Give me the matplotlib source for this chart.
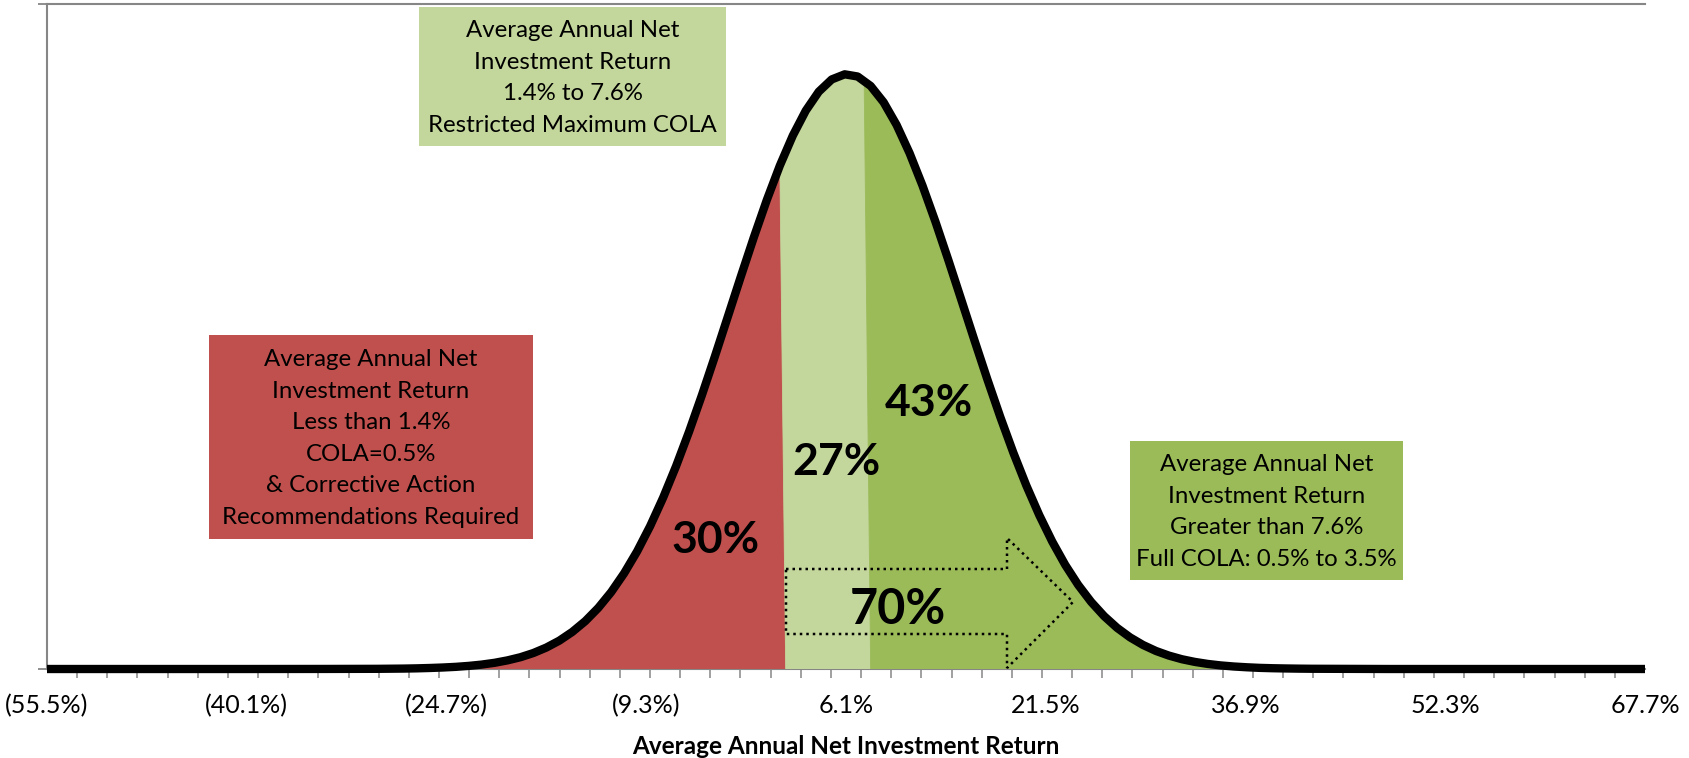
import matplotlib
matplotlib.use("Agg")
import matplotlib.pyplot as plt
import numpy as np
from matplotlib.patches import Rectangle, Polygon

# ---------------- data ----------------
# average annual net investment return (%) and relative height of the distribution curve
returns_pct = [-55.5, -40.1, -34.0,
               -30, -29, -28, -27, -26, -25, -24, -23, -22, -21,
               -20, -19, -18, -17, -16, -15, -14, -13, -12, -11,
               -10, -9, -8, -7, -6, -5, -4, -3, -2, -1,
               0, 1, 2, 3, 4, 5, 6, 7, 8, 9,
               10, 11, 12, 13, 14, 15, 16, 17, 18, 19,
               20, 21, 22, 23, 24, 25, 26, 27, 28, 29,
               30, 31, 32, 33, 34, 35, 36, 37, 38, 39,
               40, 41, 42, 48.0, 67.7]
curve_height = [0.0, 0.0, 0.01,
                 0.03, 0.05, 0.07, 0.11, 0.17, 0.25, 0.36, 0.52, 0.74, 1.04,
                 1.45, 1.98, 2.69, 3.61, 4.77, 6.24, 8.05, 10.27, 12.94, 16.11,
                 19.79, 24.02, 28.80, 34.11, 39.90, 46.10, 52.61, 59.31, 66.03, 72.61,
                 78.88, 84.63, 89.68, 93.87, 97.06, 99.12, 99.98, 99.61, 98.02, 95.28,
                 91.47, 86.74, 81.25, 75.17, 68.69, 62.00, 55.28, 48.68, 42.34, 36.37,
                 30.86, 25.87, 21.42, 17.51, 14.14, 11.28, 8.89, 6.92, 5.32, 4.04,
                 3.03, 2.25, 1.64, 1.19, 0.85, 0.60, 0.42, 0.29, 0.19, 0.13,
                 0.09, 0.06, 0.04, 0.0, 0.0]

# region boundaries as drawn (slightly slanted in the reference)
low_bound_bottom, low_bound_top = 1.45, 1.0
high_bound_bottom, high_bound_top = 8.0, 7.5

tick_values = [-55.5, -40.1, -24.7, -9.3, 6.1, 21.5, 36.9, 52.3, 67.7]
tick_labels = ["(55.5%)", "(40.1%)", "(24.7%)", "(9.3%)", "6.1%", "21.5%", "36.9%", "52.3%", "67.7%"]

share_labels = ["30%", "27%", "43%", "70%"]
box_texts = [
    "Average Annual Net\nInvestment Return\n1.4% to 7.6%\nRestricted Maximum COLA",
    "Average Annual Net\nInvestment Return\nLess than 1.4%\nCOLA=0.5%\n& Corrective Action\nRecommendations Required",
    "Average Annual Net\nInvestment Return\nGreater than 7.6%\nFull COLA: 0.5% to 3.5%",
]
x_title = "Average Annual Net Investment Return"

# ---------------- style ----------------
RED = "#C0504D"
LIGHT = "#C3D69B"
DARK = "#9BBB59"
GRAY = "#868686"
FONT = ["Lato", "DejaVu Sans"]

W, H = 1689, 758
fig = plt.figure(figsize=(W / 100, H / 100), dpi=100)
fig.patch.set_facecolor("white")


def fx(px):
    return px / W


def fy(py):
    return 1 - py / H


ax = fig.add_axes([fx(47), fy(669), (1645 - 47) / W, (669 - 4) / H])
xmin, xmax = returns_pct[0], returns_pct[-1]
ymax = 111.8
ax.set_xlim(xmin, xmax)
ax.set_ylim(0, ymax)

x = np.array(returns_pct, dtype=float)
y = np.array(curve_height, dtype=float)

y_low_top = np.interp(low_bound_top, x, y)
y_high_top = np.interp(high_bound_top, x, y)

# red region
m = x < low_bound_top
rx = list(x[m]) + [low_bound_top, low_bound_bottom, xmin]
ry = list(y[m]) + [y_low_top, 0, 0]
ax.fill(rx, ry, color=RED, lw=0.6, ec=RED, zorder=2)
# light green region
m = (x > low_bound_top) & (x < high_bound_top)
lx = [low_bound_bottom, low_bound_top] + list(x[m]) + [high_bound_top, high_bound_bottom]
ly = [0, y_low_top] + list(y[m]) + [y_high_top, 0]
ax.fill(lx, ly, color=LIGHT, lw=0.6, ec=LIGHT, zorder=2)
# dark green region
m = x > high_bound_top
dx = [high_bound_bottom, high_bound_top] + list(x[m]) + [xmax]
dy = [0, y_high_top] + list(y[m]) + [0]
ax.fill(dx, dy, color=DARK, lw=0.6, ec=DARK, zorder=2)

# curve
ax.plot(x, y, color="black", lw=6, solid_capstyle="butt", solid_joinstyle="round",
        clip_on=False, zorder=5)

# axes styling
for s in ["left", "bottom", "top"]:
    ax.spines[s].set_color(GRAY)
    ax.spines[s].set_linewidth(1.5)
ax.spines["right"].set_visible(False)
ax.spines["bottom"].set_zorder(1)

ax.set_xticks(tick_values)
ax.set_xticklabels(tick_labels, fontsize=18, family=FONT)
ax.tick_params(axis="x", which="major", length=0, pad=18)
ax.set_xticks(np.linspace(xmin, xmax, 54), minor=True)
ax.tick_params(axis="x", which="minor", length=6.5, width=1.1, color=GRAY, direction="out")
ax.set_yticks([0, ymax])
ax.set_yticklabels([])
ax.tick_params(axis="y", length=6.5, width=1.3, color=GRAY, direction="out")
ax.set_xlabel(x_title, fontsize=17.5, fontweight="bold", family=FONT, labelpad=13)

# annotation boxes (x0, y0, x1, y1 in pixels)
boxes = [((419, 7, 726, 146), LIGHT, box_texts[0]),
         ((209, 335, 533, 539), RED, box_texts[1]),
         ((1130, 441, 1403, 580), DARK, box_texts[2])]
for (x0, y0, x1, y1), col, txt in boxes:
    ax.add_patch(Rectangle((fx(x0), fy(y1)), (x1 - x0) / W, (y1 - y0) / H,
                           transform=fig.transFigure, facecolor=col, edgecolor="none",
                           clip_on=False, zorder=3))
    ax.text(fx((x0 + x1) / 2), fy((y0 + y1) / 2 + 1.5), txt, transform=fig.transFigure,
            ha="center", va="center", fontsize=17.3, family=FONT, linespacing=1.62,
            color="black", zorder=4)

# dotted block arrow
arrow_px = [(786, 569), (1007, 569), (1007, 538), (1073, 602), (1007, 668),
            (1007, 634), (786, 634)]
ax.add_patch(Polygon([(fx(a), fy(b)) for a, b in arrow_px], closed=True, fill=False,
                     edgecolor="black", linestyle=(0, (1, 1.6)), lw=1.8,
                     transform=fig.transFigure, clip_on=False, zorder=4))

# share labels
share_pos = [(716, 540, 32), (836, 462, 32), (929, 403, 32), (898, 609, 35)]
for lab, (px, py, fs) in zip(share_labels, share_pos):
    ax.text(fx(px), fy(py), lab, transform=fig.transFigure, ha="center", va="center",
            fontsize=fs, fontweight="bold", family=FONT, color="black", zorder=6)

fig.savefig("out.png", dpi=100, facecolor="white")
